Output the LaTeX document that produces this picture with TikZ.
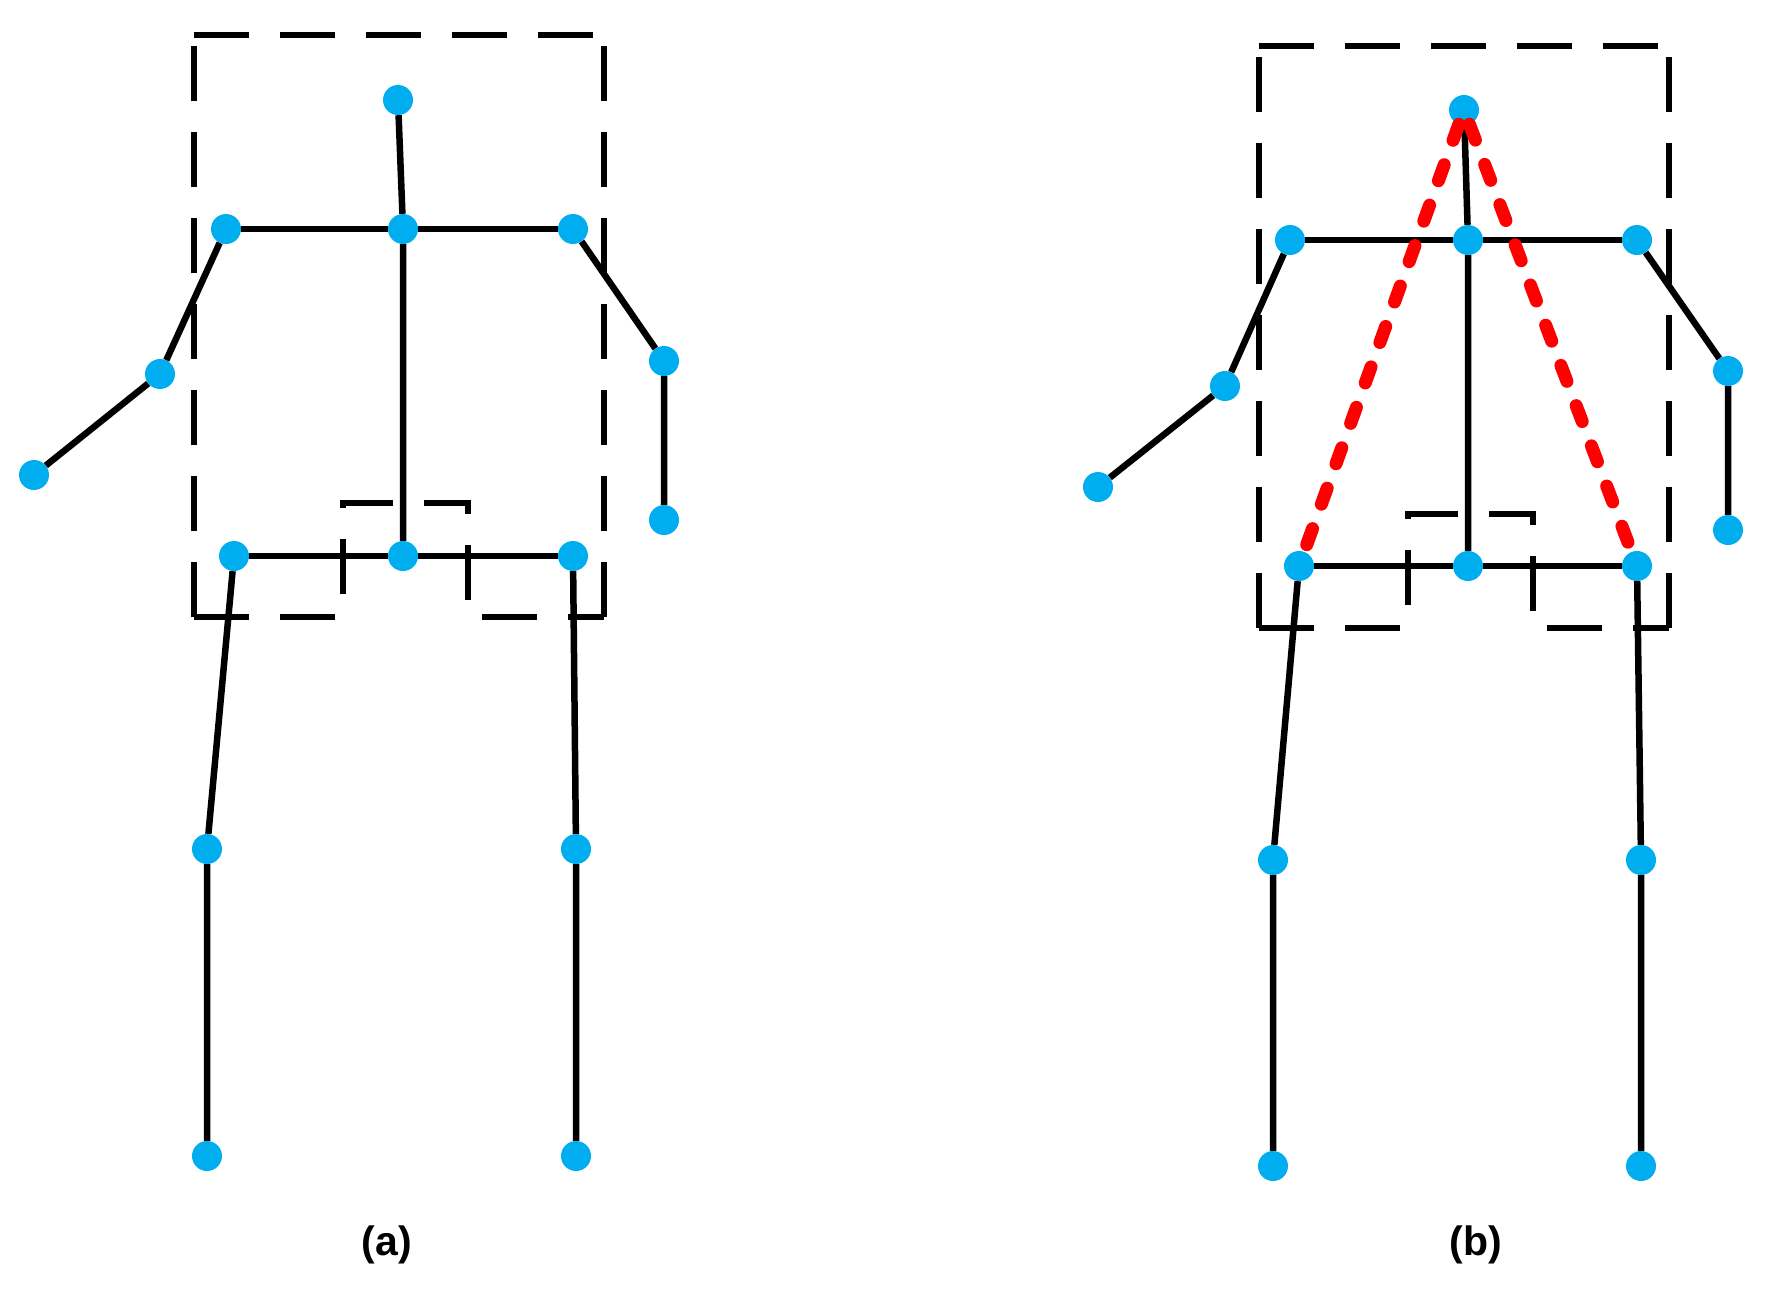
\documentclass[tikz,border=0pt]{standalone}
\usepackage{fontspec}
\setmainfont{Liberation Sans}
\definecolor{jointblue}{RGB}{0,174,239}
\begin{document}
\begin{tikzpicture}[x=1pt,y=-1pt,
  bone/.style={line width=6.5pt, black},
  joint/.style={circle, fill=jointblue, inner sep=0pt, minimum size=30pt},
  roi/.style={line width=6pt, black, dash pattern=on 55pt off 31pt},
  redline/.style={red, line width=13pt, line cap=round, dash pattern=on 17pt off 26pt},
  lbl/.style={font=\fontsize{41}{46}\selectfont\bfseries}]
\useasboundingbox (0,0) rectangle (1779,1288);

% ---------- panel (a) ----------
\draw[roi] (194,35) -- (604,35);
\draw[roi] (194,617) -- (194,35);
\draw[roi] (604,617) -- (604,35);
\draw[roi] (194,617) -- (343,617) -- (343,503) -- (468,503) -- (468,617) -- (604,617);
\node[joint] (ahead) at (398,100) {};
\node[joint] (aneck) at (403,229) {};
\node[joint] (alsh) at (226,229) {};
\node[joint] (arsh) at (573,229) {};
\node[joint] (alel) at (160,374) {};
\node[joint] (alwr) at (34,475) {};
\node[joint] (arel) at (664,361) {};
\node[joint] (arwr) at (664,520) {};
\node[joint] (amhip) at (403,556) {};
\node[joint] (alhip) at (234,556) {};
\node[joint] (arhip) at (573,556) {};
\node[joint] (alkn) at (207,849) {};
\node[joint] (arkn) at (576,849) {};
\node[joint] (alan) at (207,1156) {};
\node[joint] (aran) at (576,1156) {};
\draw[bone] (ahead) -- (aneck) -- (amhip);
\draw[bone] (alsh) -- (aneck) -- (arsh);
\draw[bone] (alhip) -- (amhip) -- (arhip);
\draw[bone] (alsh) -- (alel) -- (alwr);
\draw[bone] (arsh) -- (arel) -- (arwr);
\draw[bone] (alhip) -- (alkn) -- (alan);
\draw[bone] (arhip) -- (arkn) -- (aran);
\node[lbl] (la) at (387,1245) {(a)};

% ---------- panel (b) ----------
\draw[roi] (1259,46) -- (1669,46);
\draw[roi] (1259,628) -- (1259,46);
\draw[roi] (1669,628) -- (1669,46);
\draw[roi] (1259,628) -- (1408,628) -- (1408,514) -- (1533,514) -- (1533,628) -- (1669,628);
\node[joint] (bhead) at (1464,110) {};
\node[joint] (bneck) at (1468,240) {};
\node[joint] (blsh) at (1290,240) {};
\node[joint] (brsh) at (1637,240) {};
\node[joint] (blel) at (1225,386) {};
\node[joint] (blwr) at (1098,487) {};
\node[joint] (brel) at (1728,371) {};
\node[joint] (brwr) at (1728,530) {};
\node[joint] (bmhip) at (1468,566) {};
\node[joint] (blhip) at (1299,566) {};
\node[joint] (brhip) at (1637,566) {};
\node[joint] (blkn) at (1273,860) {};
\node[joint] (brkn) at (1641,860) {};
\node[joint] (blan) at (1273,1166) {};
\node[joint] (bran) at (1641,1166) {};
\draw[bone] (bhead) -- (bneck) -- (bmhip);
\draw[bone] (blsh) -- (bneck) -- (brsh);
\draw[bone] (blhip) -- (bmhip) -- (brhip);
\draw[bone] (blsh) -- (blel) -- (blwr);
\draw[bone] (brsh) -- (brel) -- (brwr);
\draw[bone] (blhip) -- (blkn) -- (blan);
\draw[bone] (brhip) -- (brkn) -- (bran);
\draw[redline] (bhead) -- (blhip);
\draw[redline] (bhead) -- (brhip);
\node[lbl] (lb) at (1476,1245) {(b)};
\end{tikzpicture}
\end{document}
